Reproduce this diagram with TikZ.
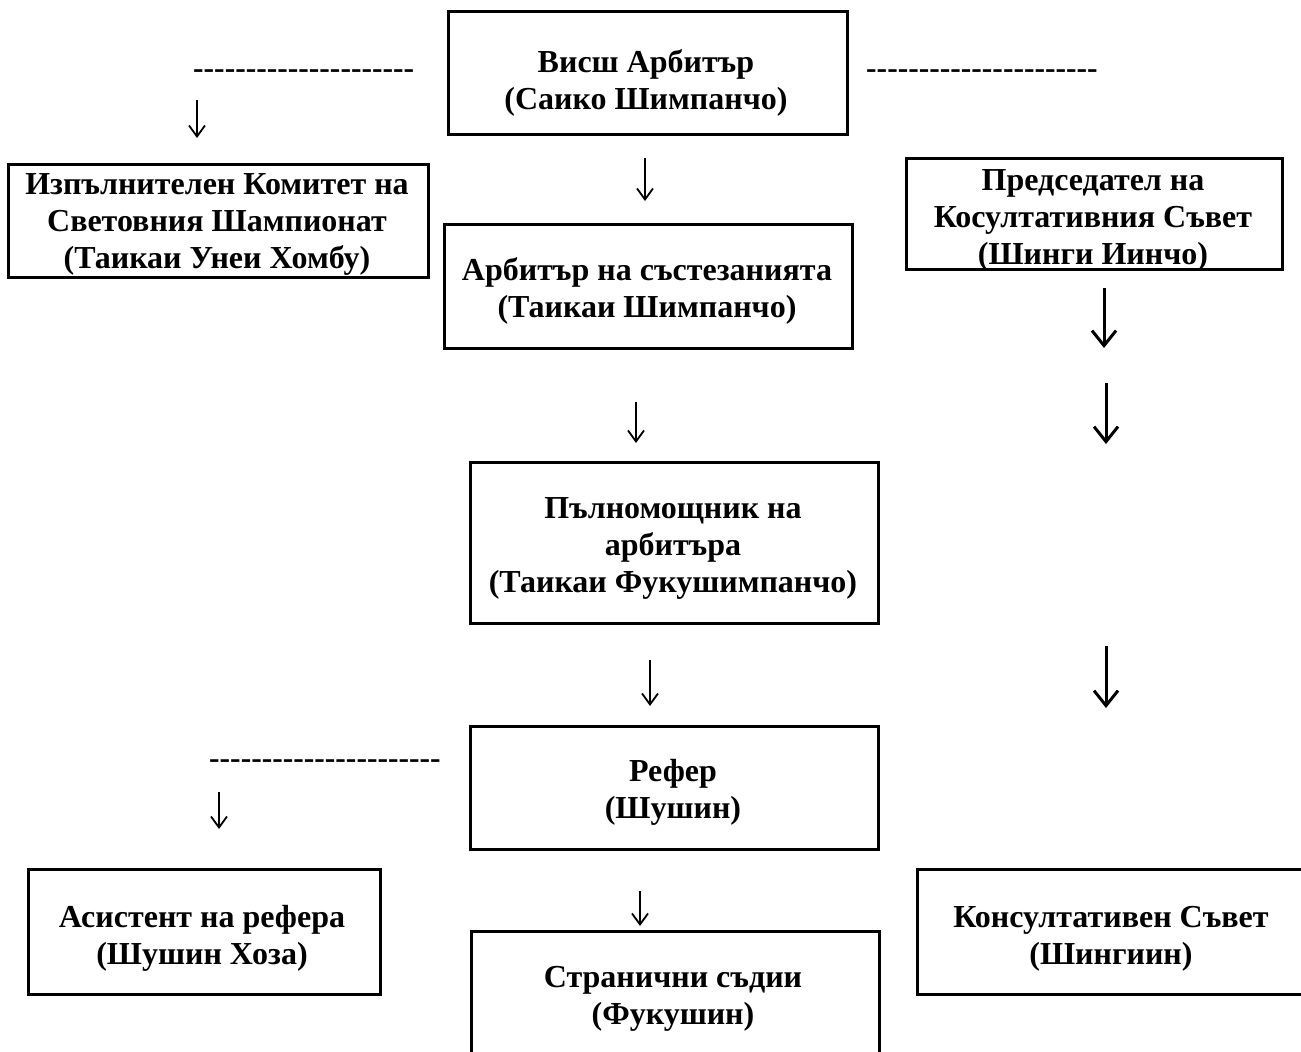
\documentclass[tikz,border=0pt]{standalone}
\usepackage{fontspec}
\setmainfont{Liberation Serif}
\usetikzlibrary{arrows.meta}
\newcommand{\hyphens}[1]{\foreach \i in {1,...,#1}{-{}}}
\tikzset{
  box/.style={draw=black, line width=2.5pt, rectangle, anchor=north west, inner sep=0pt},
  txt/.style={align=center, font=\bfseries\fontsize{32}{37}\selectfont, inner sep=0pt},
  dashtxt/.style={font=\bfseries\fontsize{31.6}{36}\selectfont, inner sep=0pt, anchor=mid west},
  thinarrow/.style={line width=1.8pt, -{Straight Barb[length=11pt, width=16pt, line width=1.8pt]}},
  boldarrow/.style={line width=3pt, -{Straight Barb[length=15pt, width=24pt, line width=3pt]}}
}
\begin{document}
\begin{tikzpicture}[x=1pt, y=-1pt]
\useasboundingbox (0,0) rectangle (1301,1052);
\fill[white] (0,0) rectangle (1301,1052);
\clip (0,0) rectangle (1301,1052);

% boxes
\node[box, minimum width=399pt, minimum height=123pt] (b1) at (447,10) {};
\node[box, minimum width=420pt, minimum height=113pt] (b2) at (7,163) {};
\node[box, minimum width=408pt, minimum height=124pt] (b3) at (443,223) {};
\node[box, minimum width=376pt, minimum height=111pt] (b4) at (905,157) {};
\node[box, minimum width=408pt, minimum height=161pt] (b5) at (469,461) {};
\node[box, minimum width=408pt, minimum height=123pt] (b6) at (469,725) {};
\node[box, minimum width=352pt, minimum height=125pt] (b7) at (27,868) {};
\node[box, minimum width=408pt, minimum height=160pt] (b8) at (470,930) {};
\node[box, minimum width=420pt, minimum height=125pt] (b9) at (916,868) {};

% texts
\node[txt] (t1) at (646,83) {Висш Арбитър\\(Саико Шимпанчо)};
\node[txt] (t2) at (217,224) {Изпълнителен Комитет на\\Световния Шампионат\\(Таикаи Унеи Хомбу)};
\node[txt] (t3) at (647,291) {Арбитър на състезанията\\(Таикаи Шимпанчо)};
\node[txt] (t4) at (1093,220) {Председател на\\Косултативния Съвет\\(Шинги Иинчо)};
\node[txt] (t5) at (673,548) {Пълномощник на\\арбитъра\\(Таикаи Фукушимпанчо)};
\node[txt] (t6) at (673,792) {Рефер\\(Шушин)};
\node[txt] (t7) at (202,938) {Асистент на рефера\\(Шушин Хоза)};
\node[txt] (t8) at (673,999) {Странични съдии\\(Фукушин)};
\node[txt] (t9) at (1111,939) {Консултативен Съвет\\(Шингиин)};

% dashes
\node[dashtxt] (d1) at (193,76) {\hyphens{21}};
\node[dashtxt] (d2) at (866,76) {\hyphens{22}};
\node[dashtxt] (d3) at (209,766) {\hyphens{22}};

% arrows
\coordinate (a1s) at (197,100); \coordinate (a1e) at (197,138);
\coordinate (a2s) at (645,158); \coordinate (a2e) at (645,201);
\coordinate (a3s) at (1104,288); \coordinate (a3e) at (1104,348);
\coordinate (a4s) at (1106,383); \coordinate (a4e) at (1106,444);
\coordinate (a5s) at (636,402); \coordinate (a5e) at (636,443);
\coordinate (a6s) at (650,660); \coordinate (a6e) at (650,706);
\coordinate (a7s) at (1106,646); \coordinate (a7e) at (1106,708);
\coordinate (a8s) at (219,792); \coordinate (a8e) at (219,829);
\coordinate (a9s) at (640,891); \coordinate (a9e) at (640,926);

\draw[thinarrow] (a1s) -- (a1e);
\draw[thinarrow] (a2s) -- (a2e);
\draw[boldarrow] (a3s) -- (a3e);
\draw[boldarrow] (a4s) -- (a4e);
\draw[thinarrow] (a5s) -- (a5e);
\draw[thinarrow] (a6s) -- (a6e);
\draw[boldarrow] (a7s) -- (a7e);
\draw[thinarrow] (a8s) -- (a8e);
\draw[thinarrow] (a9s) -- (a9e);
\end{tikzpicture}
\end{document}
